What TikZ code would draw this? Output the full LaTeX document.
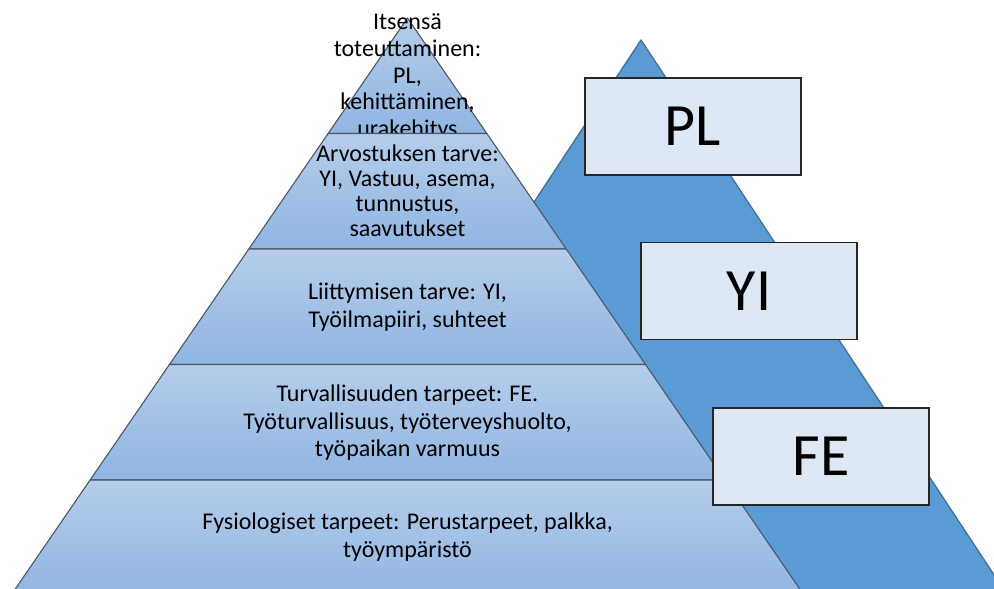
\documentclass[tikz,border=0pt]{standalone}
\usepackage{fontspec}
\setmainfont{Carlito}
\definecolor{backblue}{HTML}{5B9BD5}
\definecolor{backedge}{HTML}{41719C}
\definecolor{layertop}{HTML}{B5CDEA}
\definecolor{layerbot}{HTML}{90B5E2}
\definecolor{layeredge}{HTML}{4A5868}
\definecolor{tagfill}{HTML}{DEE8F4}
\tikzset{
  layer/.style={top color=layertop, bottom color=layerbot, draw=layeredge, line width=1.1pt, line join=round},
  layertext/.style={align=center, inner sep=0pt, text=black, font=\fontsize{24}{27.5}\selectfont},
  tagbox/.style={draw=black!85, line width=1.3pt, fill=tagfill, minimum width=216pt, minimum height=97pt,
    inner sep=0pt, font=\fontsize{60}{66}\selectfont}
}
\begin{document}
\begin{tikzpicture}[x=1pt, y=-1pt]
  \useasboundingbox (0,0) rectangle (994,589);
  \clip (0,0) rectangle (994,589);

  % second pyramid behind the main one
  \path[fill=backblue, draw=backedge, line width=1.3pt, line join=round]
    (641,40) -- (1012,602) -- (270,602) -- cycle;

  % main pyramid, one layer at a time (each text is covered by the layer below)
  \path[layer] (407.5,18) -- (486.85,133.5) -- (328.15,133.5) -- cycle;
  \node[layertext, font=\fontsize{24}{26.7}\selectfont] (t1) at (407.5,77) {Itsensä\\toteuttaminen:\\PL,\\kehittäminen,\\urakehitys};

  \path[layer] (328.15,133.5) -- (486.85,133.5) -- (566.2,249) -- (248.8,249) -- cycle;
  \node[layertext, font=\fontsize{24}{25}\selectfont] (t2) at (407.5,191) {Arvostuksen tarve:\\YI, Vastuu, asema,\\tunnustus,\\saavutukset};

  \path[layer] (248.8,249) -- (566.2,249) -- (645.55,364.5) -- (169.45,364.5) -- cycle;
  \node[layertext] (t3) at (407.5,307) {Liittymisen tarve: YI,\\Työilmapiiri, suhteet};

  \path[layer] (169.45,364.5) -- (645.55,364.5) -- (724.9,480) -- (90.1,480) -- cycle;
  \node[layertext] (t4) at (407.5,423) {Turvallisuuden tarpeet: FE.\\Työturvallisuus, työterveyshuolto,\\työpaikan varmuus};

  \path[layer] (90.1,480) -- (724.9,480) -- (804.25,595.5) -- (10.75,595.5) -- cycle;
  \node[layertext] (t5) at (407.5,537) {Fysiologiset tarpeet: Perustarpeet, palkka,\\työympäristö};

  % labels on the second pyramid
  \node[tagbox] (pl) at (693,126.5) {PL};
  \node[tagbox] (yi) at (749,291) {YI};
  \node[tagbox] (fe) at (821,456.5) {FE};
\end{tikzpicture}
\end{document}
